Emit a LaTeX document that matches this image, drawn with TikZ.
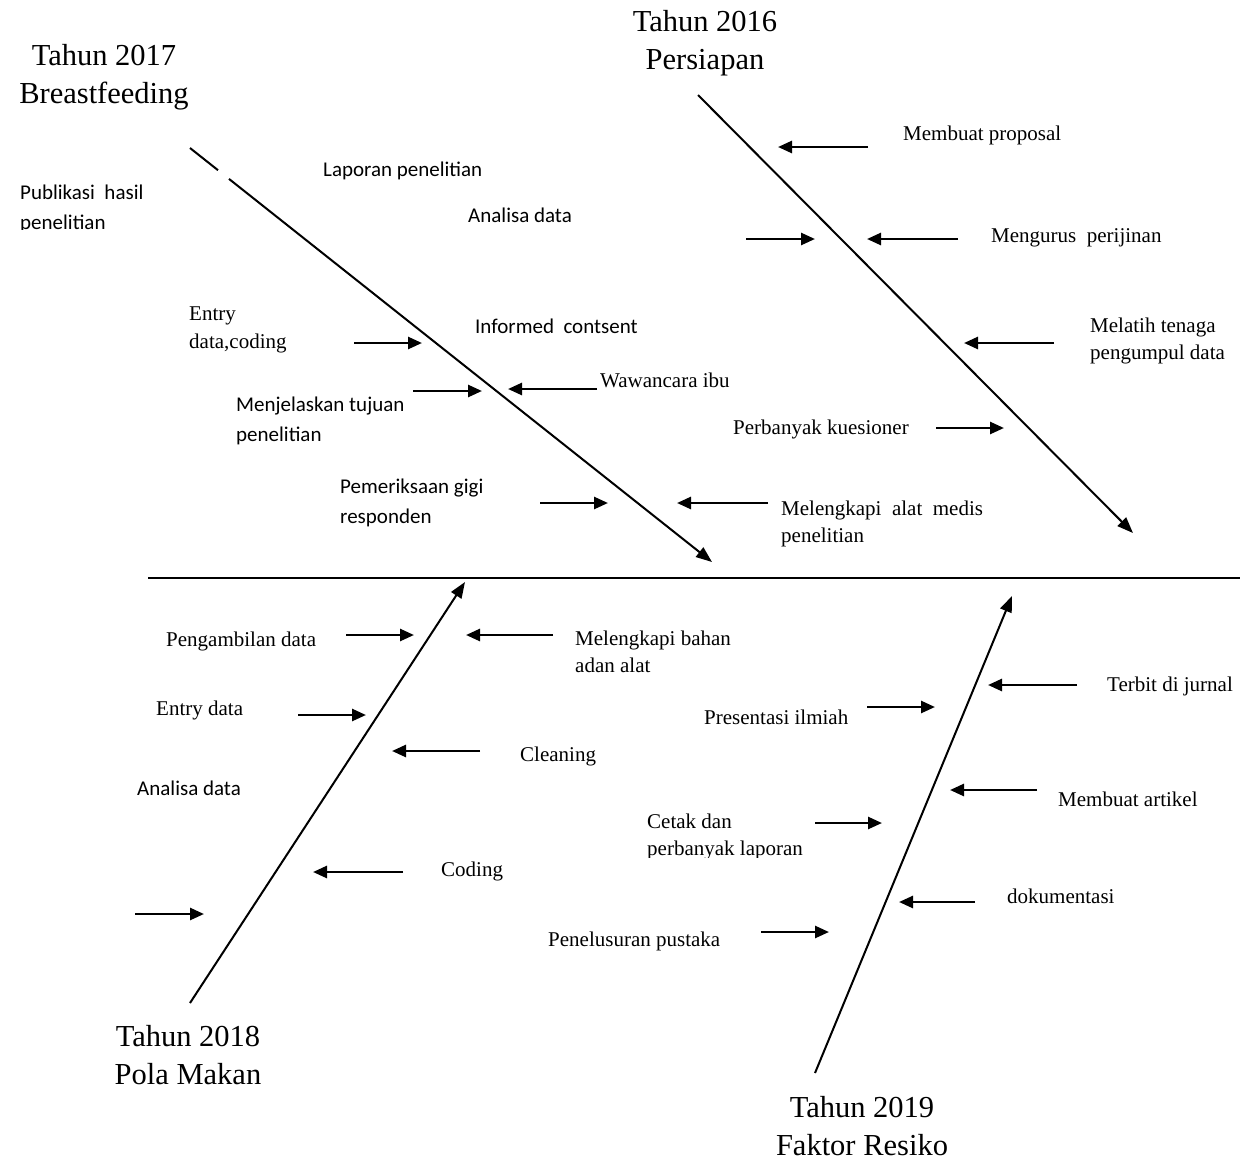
\documentclass[tikz,border=0pt]{standalone}
\usepackage{fontspec}
\newfontfamily\tnrfont{Liberation Serif}
\newfontfamily\calfont{Carlito}
\usetikzlibrary{arrows.meta}
\begin{document}
\begin{tikzpicture}[x=1pt,y=-1pt,
  spine/.style={line width=2pt},
  arr/.style={line width=2.6pt,-{Triangle[length=14pt,width=12pt]}},
  sparr/.style={line width=2pt,-{Triangle[length=16pt,width=12pt]}},
  title/.style={font=\fontsize{30.5}{38}\selectfont\tnrfont,align=center,inner sep=0},
  tt/.style={font=\fontsize{21}{27.5}\selectfont\tnrfont,align=left,inner sep=0,anchor=west},
  ct/.style={font=\fontsize{21}{30}\selectfont\calfont,align=left,inner sep=0,anchor=west}]
\useasboundingbox (0,0) rectangle (1240,1160);
\fill[white] (0,0) rectangle (1240,1160);

% titles
\node[title] (t17) at (104,77) {Tahun 2017\\Breastfeeding};
\node[title] (t16) at (705,43) {Tahun 2016\\Persiapan};
\node[title] (t18) at (188,1055) {Tahun 2018\\Pola Makan};
\node[title] (t19) at (862,1126) {Tahun 2019\\Faktor Resiko};

% main spine
\coordinate (h1) at (148,578);
\coordinate (h2) at (1240,578);
\draw[spine] (h1) -- (h2);

% diagonal spines
\coordinate (a17) at (190,148);
\coordinate (g17a) at (218,170.2);
\coordinate (g17b) at (229,178.9);
\coordinate (b17) at (712,562);
\draw[spine] (a17) -- (g17a);
\draw[sparr] (g17b) -- (b17);

\coordinate (a16) at (698,95);
\coordinate (b16) at (1133,533);
\draw[sparr] (a16) -- (b16);

\coordinate (a18) at (190,1003);
\coordinate (b18) at (465,582);
\draw[sparr] (a18) -- (b18);

\coordinate (a19) at (815,1073);
\coordinate (b19) at (1012,596);
\draw[sparr] (a19) -- (b19);

% ---- 2017 branch
\begin{scope}
\clip (0,160) rectangle (200,229);
\node[ct] (pub) at (20,209) {Publikasi\ \ hasil\\penelitian};
\end{scope}
\node[ct] (lap) at (323,171) {Laporan penelitian};
\node[ct] (ana1) at (468,215) {Analisa data};
\node[tt] (ent1) at (189,330) {Entry\\data,coding};
\node[ct] (inf) at (475,326) {Informed\ \ contsent};
\node[tt] (waw) at (600,380) {Wawancara ibu};
\node[ct] (menj) at (236,421) {Menjelaskan tujuan\\penelitian};
\node[ct] (pem) at (340,503) {Pemeriksaan gigi\\responden};
\node[tt] (mel1) at (781,524) {Melengkapi\ \ alat\ \ medis\\penelitian};

\coordinate (e1s) at (354,343); \coordinate (e1t) at (422,343);
\draw[arr] (e1s) -- (e1t);
\coordinate (m1s) at (413,391); \coordinate (m1t) at (482,391);
\draw[arr] (m1s) -- (m1t);
\coordinate (w1s) at (597,389); \coordinate (w1t) at (508,389);
\draw[arr] (w1s) -- (w1t);
\coordinate (p1s) at (540,503); \coordinate (p1t) at (608,503);
\draw[arr] (p1s) -- (p1t);
\coordinate (l1s) at (768,503); \coordinate (l1t) at (677,503);
\draw[arr] (l1s) -- (l1t);

% ---- 2016 branch
\node[tt] (prop) at (903,135) {Membuat proposal};
\node[tt] (ijin) at (991,238) {Mengurus\ \ perijinan};
\node[tt] (lat) at (1090,341) {Melatih tenaga\\pengumpul data};
\node[tt] (kues) at (733,429) {Perbanyak kuesioner};

\coordinate (q1s) at (868,147); \coordinate (q1t) at (778,147);
\draw[arr] (q1s) -- (q1t);
\coordinate (q2s) at (746,239); \coordinate (q2t) at (815,239);
\draw[arr] (q2s) -- (q2t);
\coordinate (q3s) at (958,239); \coordinate (q3t) at (867,239);
\draw[arr] (q3s) -- (q3t);
\coordinate (q4s) at (1054,343); \coordinate (q4t) at (964,343);
\draw[arr] (q4s) -- (q4t);
\coordinate (q5s) at (936,428); \coordinate (q5t) at (1004,428);
\draw[arr] (q5s) -- (q5t);

% ---- 2018 branch
\node[tt] (peng) at (166,641) {Pengambilan data};
\node[tt] (bahan) at (575,652) {Melengkapi bahan\\adan alat};
\node[tt] (ent2) at (156,710) {Entry data};
\node[tt] (clean) at (520,756) {Cleaning};
\node[ct] (ana2) at (137,788) {Analisa data};
\node[tt] (cod) at (441,871) {Coding};

\coordinate (r1s) at (346,635); \coordinate (r1t) at (414,635);
\draw[arr] (r1s) -- (r1t);
\coordinate (r2s) at (553,635); \coordinate (r2t) at (466,635);
\draw[arr] (r2s) -- (r2t);
\coordinate (r3s) at (298,715); \coordinate (r3t) at (366,715);
\draw[arr] (r3s) -- (r3t);
\coordinate (r4s) at (480,751); \coordinate (r4t) at (392,751);
\draw[arr] (r4s) -- (r4t);
\coordinate (r5s) at (403,872); \coordinate (r5t) at (313,872);
\draw[arr] (r5s) -- (r5t);
\coordinate (r6s) at (135,914); \coordinate (r6t) at (204,914);
\draw[arr] (r6s) -- (r6t);

% ---- 2019 branch
\node[tt] (terb) at (1107,686) {Terbit di jurnal};
\node[tt] (pres) at (704,717) {Presentasi ilmiah};
\node[tt] (art) at (1058,799) {Membuat artikel};
\begin{scope}
\clip (630,800) rectangle (850,857);
\node[tt] (cet) at (647,837) {Cetak dan\\perbanyak laporan};
\end{scope}
\node[tt] (dok) at (1007,896) {dokumentasi};
\node[tt] (pen) at (548,941) {Penelusuran pustaka};

\coordinate (u1s) at (1077,685); \coordinate (u1t) at (988,685);
\draw[arr] (u1s) -- (u1t);
\coordinate (u2s) at (867,707); \coordinate (u2t) at (935,707);
\draw[arr] (u2s) -- (u2t);
\coordinate (u3s) at (1037,790); \coordinate (u3t) at (950,790);
\draw[arr] (u3s) -- (u3t);
\coordinate (u4s) at (815,823); \coordinate (u4t) at (882,823);
\draw[arr] (u4s) -- (u4t);
\coordinate (u5s) at (975,902); \coordinate (u5t) at (899,902);
\draw[arr] (u5s) -- (u5t);
\coordinate (u6s) at (761,932); \coordinate (u6t) at (829,932);
\draw[arr] (u6s) -- (u6t);
\end{tikzpicture}
\end{document}
